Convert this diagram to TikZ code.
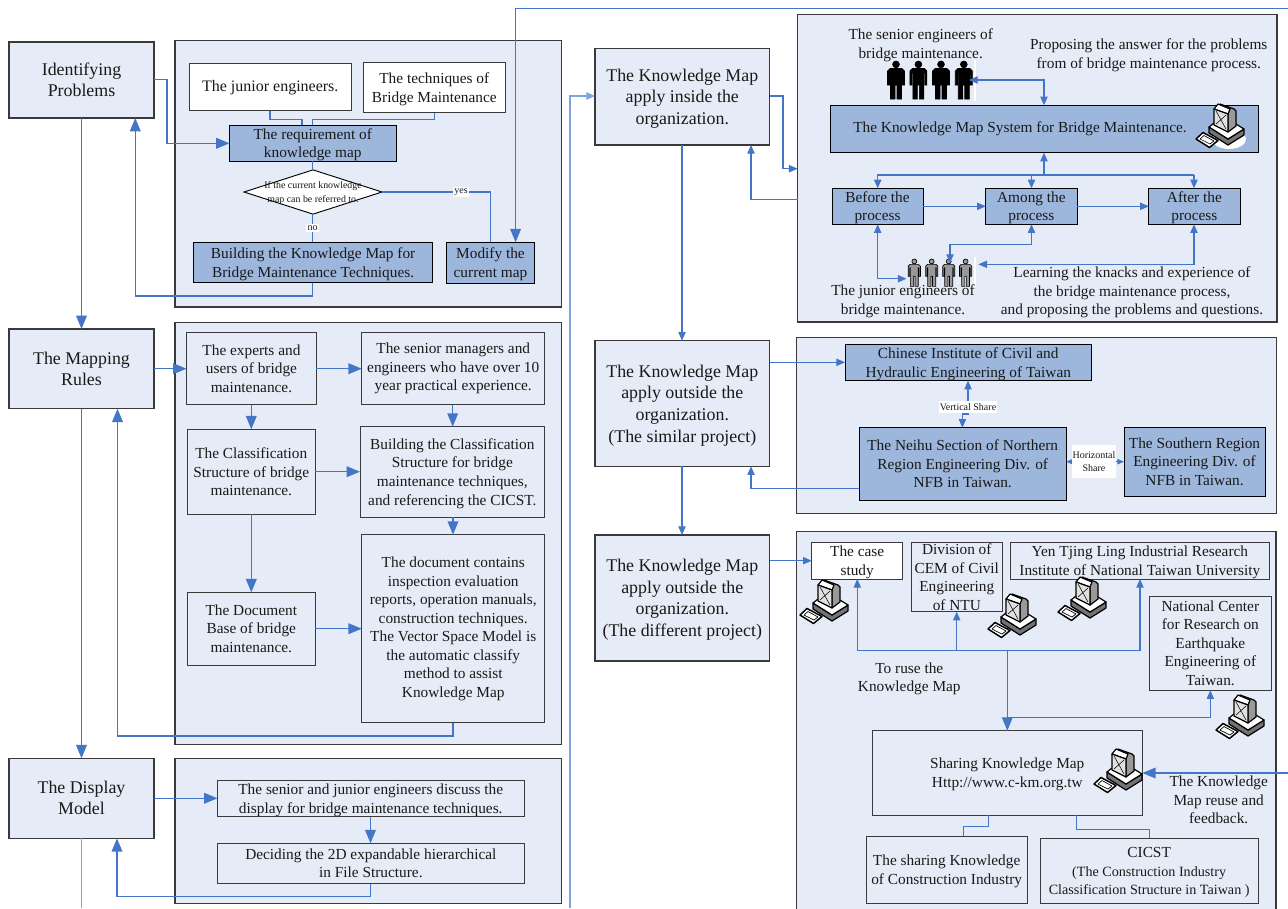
\documentclass[tikz,border=0pt]{standalone}
\usepackage{fontspec}
\setmainfont{Liberation Serif}
\usetikzlibrary{arrows.meta,shapes.geometric}
\definecolor{panelc}{HTML}{E6ECF7}
\definecolor{midc}{HTML}{9DB7DC}
\definecolor{linec}{HTML}{4575C6}
\definecolor{lightl}{HTML}{7FA1DC}
\definecolor{edgec}{HTML}{3A3A3A}
\newcommand\cicf{\fontsize{10.6}{14.2}\selectfont}
\newcommand\up{\rule{0pt}{10.5pt}}
\newcommand\upb{\rule{0pt}{12pt}}
\tikzset{
  x=0.75pt,y=-0.75pt,
  every node/.style={outer sep=0pt,inner sep=0pt,align=center,text=black!90},
  panel/.style={draw=edgec,line width=0.8pt,fill=panelc},
  bigbox/.style={draw=edgec,line width=0.8pt,fill=panelc,font=\fontsize{13.4}{15.8}\selectfont},
  bigc/.style={bigbox,font=\fontsize{13.4}{16.2}\selectfont},
  midbox/.style={draw=black,line width=0.7pt,fill=midc,font=\fontsize{11.5}{13.9}\selectfont},
  subbox/.style={draw=edgec,line width=0.7pt,fill=panelc,font=\fontsize{11.5}{13.9}\selectfont},
  whitebox/.style={draw=edgec,line width=0.7pt,fill=white,font=\fontsize{11.5}{13.9}\selectfont},
  juniorbox/.style={whitebox,font=\fontsize{12}{14}\selectfont},
  txt/.style={font=\fontsize{11.5}{13.9}\selectfont},
  tiny/.style={fill=white,font=\fontsize{7.5}{9.5}\selectfont},
  ln/.style={draw=linec,line width=0.8pt},
  big/.style={ln,line width=1pt,-{Triangle[length=10pt,width=8pt]}},
  sm/.style={ln,-{Triangle[length=6.5pt,width=5.5pt]}},
  smd/.style={ln,{Triangle[length=6.5pt,width=5.5pt]}-{Triangle[length=6.5pt,width=5.5pt]}},
  vsmd/.style={ln,{Triangle[length=5pt,width=4pt]}-{Triangle[length=5pt,width=4pt]}},
}
\newcommand\bx[7]{%
  \pgfmathsetmacro\bw{(#5-#3)*0.75}\pgfmathsetmacro\bh{(#6-#4)*0.75}%
  \pgfmathsetmacro\bcx{(#3+#5)/2}\pgfmathsetmacro\bcy{(#4+#6)/2}%
  \node[#1,minimum width=\bw pt,minimum height=\bh pt] (#2) at (\bcx,\bcy) {#7};}
\newcommand\computer[2]{%
  \begin{scope}[shift={(#1,#2)},line width=0.9pt,line join=round,draw=black]
    \fill[black!55,draw=black] (13,23)--(32,35)--(48,25)--(48,31)--(32,41)--(13,29)--cycle;
    \fill[white,draw=black] (13,23)--(18,19)--(31,27)--(40,20)--(48,25)--(32,35)--cycle;
    \fill[black!40,draw=black] (32,10)--(24,0)--(38,5)--(40,7)--(40,22)--(32,28)--cycle;
    \fill[white,draw=black] (18,5)--(22,0)--(34,5)--(32,10)--cycle;
    \fill[black!12,draw=black] (18,5)--(32,10)--(32,28)--(18,21)--cycle;
    \draw[line width=0.4pt] (20,7)--(30,25) (30,11)--(20,20);
    \fill[white,draw=black,line width=1.1pt] (0,35)--(7,28.5)--(22,36.5)--(13.5,43.5)--cycle;
    \draw[line width=0.5pt] (4,35)--(8,31.5)--(18,37)--(14,40)--cycle;
  \end{scope}}
\newcommand\person[5]{% x, top y, scale, fill, draw
  \begin{scope}[shift={(#1,#2)},scale=#3,draw=#5,fill=#4,line width=0.5pt]
    \filldraw (0,3.4) circle[radius=3.4];
    \filldraw (-6,7.5)--(6,7.5)--(8.5,10)--(8.5,24)--(6.5,24)--(6.5,12)--(5.5,12)--(5.5,38)--(1,38)--(1,24)--(-1,24)--(-1,38)--(-5.5,38)--(-5.5,12)--(-6.5,12)--(-6.5,24)--(-8.5,24)--(-8.5,10)--cycle;
  \end{scope}}
\begin{document}
\begin{tikzpicture}
\useasboundingbox (0,0) rectangle (1288,908);
\clip (0,0) rectangle (1288,908);
% ---------- panels
\bx{panel}{pa}{175}{40.7}{561.5}{307}{}
\bx{panel}{pb}{175}{322.7}{561.5}{744.3}{}
\bx{panel}{pc}{175}{758.7}{561.5}{903.3}{}
\bx{panel}{pd}{797.6}{14.7}{1277}{322}{}
\bx{panel}{pe}{796.6}{337.3}{1276.5}{513.7}{}
\bx{panel}{pf}{796.7}{531.7}{1276}{925}{}
% ---------- left column
\bx{bigbox}{idp}{9}{42}{154}{118}{Identifying\\Problems}
\bx{bigbox}{map}{9}{329}{154}{408.7}{The Mapping\\Rules}
\bx{bigbox}{dis}{9}{758.3}{154}{838.3}{The Display\\Model}
% ---------- panel a
\bx{juniorbox}{jun}{189.5}{63.7}{351}{110.7}{The junior engineers.}
\bx{whitebox}{tec}{363.6}{62.3}{505}{112.7}{\up The techniques of\\Bridge Maintenance}
\bx{midbox}{req}{229.5}{127.3}{396}{159.3}{\up The requirement of\\knowledge map}
\bx{midbox}{bld}{193.5}{242.3}{432.7}{282.7}{\up Building the Knowledge Map for\\Bridge Maintenance Techniques.}
\bx{midbox}{mod}{446.5}{242.3}{534.5}{283.3}{\up Modify the\\current map}
\node[diamond,aspect=3.1,draw=black,line width=0.7pt,fill=white,minimum width=103.5pt,minimum height=33.2pt,font=\fontsize{7.4}{10.6}\selectfont] (dec) at (313,192) {};
\node[font=\fontsize{7.4}{10.6}\selectfont] (dect) at (313,192.8) {If the current knowledge\\map can be referred to.};
\draw[ln] (jun.south -| 270,0) -- (270,119.5) -- (302,119.5) -- (req.north -| 302,0);
\draw[ln] (tec.south -| 434.5,0) -- (434.5,119.5) -- (312.7,119.5) -- (req.north -| 312.7,0);
\draw[ln] (req.south -| 312.7,0) -- (dec.north -| 312.7,0);
\draw[ln] (dec.south -| 312.7,0) -- node[tiny,inner sep=1pt] (lno) {no} (bld.north -| 312.7,0);
\draw[ln] (dec.east) -- (490.5,192) -- (mod.north -| 490.5,0);
\node[tiny,inner sep=1pt] (lyes) at (461,192) {yes};
\draw[big] (idp.east |- 0,79.7) -- (167,79.7) -- (167,143.3) -- (req.west |- 0,143.3);
\draw[big] (bld.south -| 312.7,0) -- (312.7,296) -- (135.3,296) -- (idp.south -| 135.3,0);
\draw[big,line width=1pt] (idp.south -| 81.5,0) -- (map.north -| 81.5,0);
% ---------- panel b
\bx{subbox}{exp}{186.5}{332.7}{316.4}{404.7}{The experts and\\users of bridge\\maintenance.}
\bx{subbox}{sen}{361.8}{332.7}{544.7}{404.7}{The senior managers and\\engineers who have over 10\\year practical experience.}
\bx{subbox}{cla}{187.6}{429.3}{315}{514.3}{The Classification\\Structure of bridge\\maintenance.}
\bx{subbox}{bcl}{360}{426.7}{544.7}{517}{\up Building the Classification\\Structure for bridge\\maintenance techniques,\\and referencing the CICST.}
\bx{subbox}{dob}{187.6}{592.3}{315}{665}{The Document\\Base of bridge\\maintenance.}
\bx{subbox}{doc}{361.8}{534.7}{544.7}{722.7}{The document contains\\inspection evaluation\\reports, operation manuals,\\construction techniques.\\The Vector Space Model is\\the automatic classify\\method to assist\\Knowledge Map}
\draw[big] (map.east |- 0,368.7) -- (exp.west |- 0,368.7);
\draw[big] (exp.east |- 0,368.7) -- (sen.west |- 0,368.7);
\draw[big] (sen.south -| 452.7,0) -- (bcl.north -| 452.7,0);
\draw[big] (exp.south -| 251.3,0) -- (cla.north -| 251.3,0);
\draw[big] (cla.east |- 0,471.7) -- (bcl.west |- 0,471.7);
\draw[big] (cla.south -| 251.3,0) -- (dob.north -| 251.3,0);
\draw[big] (bcl.south -| 453,0) -- (doc.north -| 453,0);
\draw[big] (dob.east |- 0,628.7) -- (doc.west |- 0,628.7);
\draw[big] (doc.south -| 453,0) -- (453,736) -- (117.5,736) -- (map.south -| 117.5,0);
\draw[big,line width=1pt] (map.south -| 81.5,0) -- (dis.north -| 81.5,0);
% ---------- panel c
\bx{subbox}{dsc}{217.5}{780.3}{524}{816.7}{\up The senior and junior engineers discuss the\\display for bridge maintenance techniques.}
\bx{subbox}{dec2}{217}{843.3}{524.7}{883.7}{Deciding the 2D expandable hierarchical\\in File Structure.}
\draw[big] (dis.east |- 0,798.3) -- (dsc.west |- 0,798.3);
\draw[big] (dsc.south -| 370.5,0) -- (dec2.north -| 370.5,0);
\draw[big] (dec2.south -| 370.5,0) -- (370.5,896.7) -- (117,896.7) -- (dis.south -| 117,0);
\coordinate (disout) at (81.5,908);
\draw[ln,draw=lightl,line width=1pt] (dis.south -| 81.5,0) -- (disout);
% ---------- centre column
\bx{bigc}{kin}{595}{48.3}{769.6}{145}{\upb The Knowledge Map\\apply inside the\\organization.}
\bx{bigc}{ksi}{595}{340.7}{769.6}{466.3}{\upb The Knowledge Map\\apply outside the\\organization.\\(The similar project)}
\bx{bigc}{kdi}{595}{535}{769.6}{661}{\upb The Knowledge Map\\apply outside the\\organization.\\(The different project)}
\coordinate (bot) at (570,908);
\draw[sm,draw=lightl,line width=1pt] (bot) -- (570,96) -- (kin.west |- 0,96);
\draw[sm] (kin.south -| 682,0) -- (ksi.north -| 682,0);
\draw[sm] (ksi.south -| 682,0) -- (kdi.north -| 682,0);
\draw[sm] (kin.east |- 0,96) -- (783,96) -- (783,168.7) -- (pd.west |- 0,168.7);
\draw[sm] (pd.west |- 0,199.3) -- (751,199.3) -- (kin.south -| 751,0);
% top feedback
\coordinate (rtop) at (1288,8.5);
\draw[big] (rtop) -- (515.6,8.5) -- (mod.north -| 515.6,0);
% ---------- panel d
\bx{midbox}{sys}{830.5}{105.3}{1258}{152.7}{}
\node[txt] (syst) at (1020,128.5) {The Knowledge Map System for Bridge Maintenance.};
\fill[white] (1229,139) ellipse[x radius=17,y radius=10];
\computer{1196}{104}
\bx{midbox}{bef}{832}{188.3}{923}{224.3}{\up Before the\\process}
\bx{midbox}{amo}{985.8}{188.3}{1077}{224.3}{\up Among the\\process}
\bx{midbox}{aft}{1148.8}{188.3}{1240}{224.3}{\up After the\\process}
\fill[white] (974,60) rectangle (976,101);
\fill[white] (974,257) rectangle (976,287);
\person{896}{61}{1}{black}{black}
\person{918.4}{61}{1}{black}{black}
\person{941}{61}{1}{black}{black}
\person{963.8}{61}{1}{black}{black}
\person{914.3}{259}{0.72}{black!40}{black}
\person{931.7}{259}{0.72}{black!40}{black}
\person{948.7}{259}{0.72}{black!40}{black}
\person{965.6}{259}{0.72}{black!40}{black}
\coordinate (senp) at (969,80);
\coordinate (jl) at (906.5,278.7);
\coordinate (jm) at (950,263);
\coordinate (jr) at (978.4,264.3);
\draw[smd] (senp) -- (1044,80) -- (sys.north -| 1044,0);
\draw[sm] (1044,175) -- (sys.south -| 1044,0);
\draw[sm] (1031.5,175) -- (amo.north -| 1031.5,0);
\draw[sm] (1194,175) -- (aft.north -| 1194,0);
\draw[sm] (1194,175) -- (877.7,175) -- (bef.north -| 877.7,0);
\draw[sm] (bef.east |- 0,206.3) -- (amo.west |- 0,206.3);
\draw[sm] (amo.east |- 0,206.3) -- (aft.west |- 0,206.3);
\draw[smd] (bef.south -| 877.7,0) -- (877.7,278.7) -- (jl);
\draw[smd] (amo.south -| 1031.5,0) -- (1031.5,244.3) -- (950,244.3) -- (jm);
\draw[smd] (aft.south -| 1194,0) -- (1194,264.3) -- (jr);
\node[txt] (tsen) at (920.7,45) {The senior engineers of\\bridge maintenance.};
\node[txt] (tans) at (1148.8,55) {Proposing the answer for the problems\\from of bridge maintenance process.};
\node[txt] (tjun) at (903,301) {The junior engineers of\\bridge maintenance.};
\node[txt] (tlea) at (1132,292.5) {Learning the knacks and experience of\\the bridge maintenance process,\\and proposing the problems and questions.};
% ---------- panel e
\bx{midbox}{chi}{845}{344.3}{1091.5}{380.7}{\up Chinese Institute of Civil and\\Hydraulic Engineering of Taiwan}
\bx{midbox}{nei}{859.4}{427.7}{1066}{500}{The Neihu Section of Northern\\Region Engineering Div. of\\NFB in Taiwan.}
\bx{midbox}{sou}{1124}{427.3}{1265}{496}{The Southern Region\\Engineering Div. of\\NFB in Taiwan.}
\draw[sm] (ksi.east |- 0,362.3) -- (chi.west |- 0,362.3);
\draw[sm] (nei.west |- 0,488.3) -- (751,488.3) -- (ksi.south -| 751,0);
\draw[smd] (chi.south -| 968,0) -- (968,414) -- (962.4,414) -- (nei.north -| 962.4,0);
\node[tiny,minimum width=43pt,minimum height=9pt] (vsh) at (968,406.7) {Vertical Share};
\draw[vsmd] (nei.east |- 0,461.7) -- (sou.west |- 0,461.7);
\node[tiny,minimum width=33pt,minimum height=25pt] (hsh) at (1094,461.7) {Horizontal\\Share};
% ---------- panel f
\bx{whitebox}{cas}{811.7}{542.7}{902.7}{579}{\up The case\\study}
\bx{subbox}{div}{911.3}{542.7}{1002.3}{611.7}{Division of\\CEM of Civil\\Engineering\\of NTU}
\bx{subbox}{yen}{1010.7}{542.7}{1269}{579}{\up Yen Tjing Ling Industrial Research\\Institute of National Taiwan University}
\bx{subbox}{nat}{1149}{596}{1271.7}{690.3}{National Center\\for Research on\\Earthquake\\Engineering of\\Taiwan.}
\bx{subbox}{sha}{872.3}{730.7}{1142.3}{815}{\up Sharing Knowledge Map\\Http://www.c-km.org.tw}
\bx{subbox}{skc}{866}{836.3}{1027.3}{903.3}{\up The sharing Knowledge\\of Construction Industry}
\bx{subbox}{cic}{1040.3}{838}{1258}{903.3}{\up CICST\\{\cicf (The Construction Industry}\\{\cicf Classification Structure in Taiwan )}}
\computer{800}{580}
\computer{988}{594}
\computer{1058}{577}
\computer{1216}{695}
\computer{1094}{749}
\draw[sm] (kdi.east |- 0,560.7) -- (cas.west |- 0,560.7);
\draw[sm] (sha.north -| 1007.3,0) -- (1007.3,650.7) -- (857.3,650.7) -- (cas.south -| 857.3,0);
\draw[sm] (956.7,650.7) -- (div.south -| 956.7,0);
\draw[sm] (1007.3,650.7) -- (1140,650.7) -- (yen.south -| 1140,0);
\draw[big,line width=0.8pt] (1007.3,660) -- (sha.north -| 1007.3,0);
\draw[sm] (1007.3,717.3) -- (1210.3,717.3) -- (nat.south -| 1210.3,0);
\coordinate (rback) at (1288,773);
\draw[big] (rback) -- (sha.east |- 0,773);
\draw[ln] (sha.south -| 988.7,0) -- (988.7,826.7) -- (963.7,826.7) -- (skc.north -| 963.7,0);
\draw[ln] (sha.south -| 1076.7,0) -- (1076.7,829.3) -- (1149.3,829.3) -- (cic.north -| 1149.3,0);
\node[txt] (truse) at (909.3,679) {To ruse the\\Knowledge Map};
\node[txt] (tback) at (1218.7,800) {The Knowledge\\Map reuse and\\feedback.};
\end{tikzpicture}
\end{document}
